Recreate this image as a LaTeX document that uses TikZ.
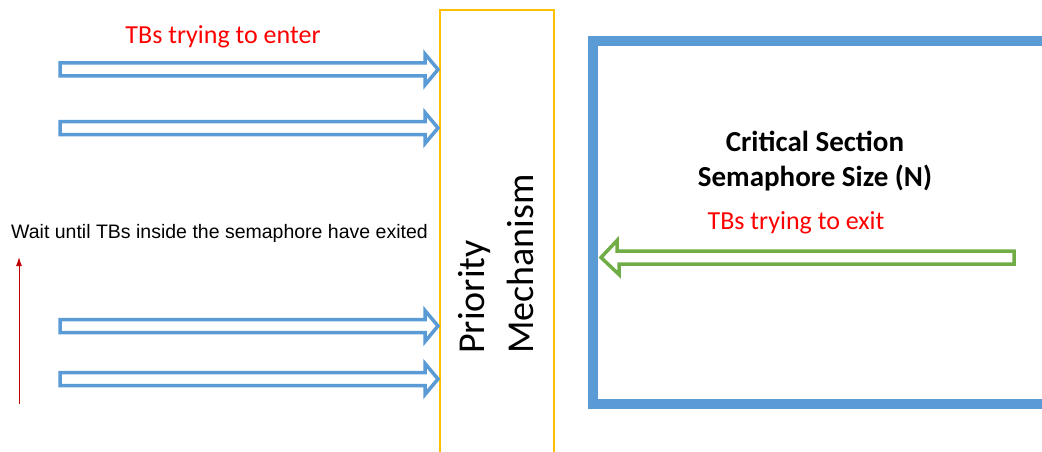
\documentclass[tikz,border=0pt]{standalone}
\usepackage{fontspec}
\setmainfont{Carlito}
\newfontfamily\arialf{Liberation Sans}
\usetikzlibrary{arrows.meta}
\definecolor{boxblue}{HTML}{5B9BD5}
\definecolor{prioyellow}{HTML}{FFC000}
\definecolor{exitgreen}{HTML}{70AD47}
\definecolor{labelred}{HTML}{FF0000}
\definecolor{darkredc}{HTML}{C00000}
\tikzset{
  inarrow/.style={draw=boxblue, line width=3.5pt, line join=miter, fill=white},
  outarrow/.style={draw=exitgreen, line width=3.5pt, line join=miter, fill=white},
  redlabel/.style={text=labelred, font=\fontsize{26}{31}\selectfont, inner sep=0pt},
}
\begin{document}
\begin{tikzpicture}[x=1pt,y=-1pt]
\useasboundingbox (0,0) rectangle (1042,452);
% priority box
\node[draw=prioyellow, line width=1.5pt, outer sep=0pt, anchor=north west, minimum width=114pt, minimum height=470pt, inner sep=0pt] (prio) at (440,10) {};
\node[rotate=90, align=left, inner sep=0pt, font=\fontsize{38}{49}\selectfont] (priotext) at (496,264) {Priority\\Mechanism};
% critical section
\node[draw=boxblue, line width=10pt, outer sep=0pt, anchor=north west, minimum width=520pt, minimum height=362.5pt, inner sep=0pt] (cs) at (593,41) {};
\node[align=center, inner sep=0pt, font=\bfseries\fontsize{29}{35}\selectfont] (cstext) at (815,161) {Critical Section\\Semaphore Size (N)};
% labels
\node[redlabel] (enter) at (223,37) {TBs trying to enter};
\node[redlabel] (exit) at (796,223) {TBs trying to exit};
\node[anchor=west, inner sep=0pt, font=\arialf\fontsize{19.5}{23}\selectfont] (wait) at (11,233) {Wait until TBs inside the semaphore have exited};
% blue entering arrows
\foreach \yy [count=\i] in {69.5,128,326,379}{
  \coordinate (tip\i) at (prio.west |- 0,\yy);
  \draw[inarrow] ([xshift=-2pt]tip\i) -- ++(-13,-15.5) -- ++(0,9) -- (60,\yy-6.5) -- (60,\yy+6.5) -- ([xshift=-15pt,yshift=-6.5pt]tip\i) -- ++(0,9) -- cycle;
}
% green exit arrow
\coordinate (gtip) at ([xshift=8pt]cs.west |- 0,257.5);
\draw[outarrow] (gtip) -- ++(16,-17) -- ++(0,10.5) -- (1014,251) -- (1014,264) -- (619,264) -- ++(0,10.5) -- cycle;
% red wait arrow
\coordinate (rbot) at (19,404);
\coordinate (rtop) at (19,257);
\draw[darkredc, line width=1pt, -{Latex[length=9pt,width=6pt]}] (rbot) -- (rtop);
\end{tikzpicture}
\end{document}
